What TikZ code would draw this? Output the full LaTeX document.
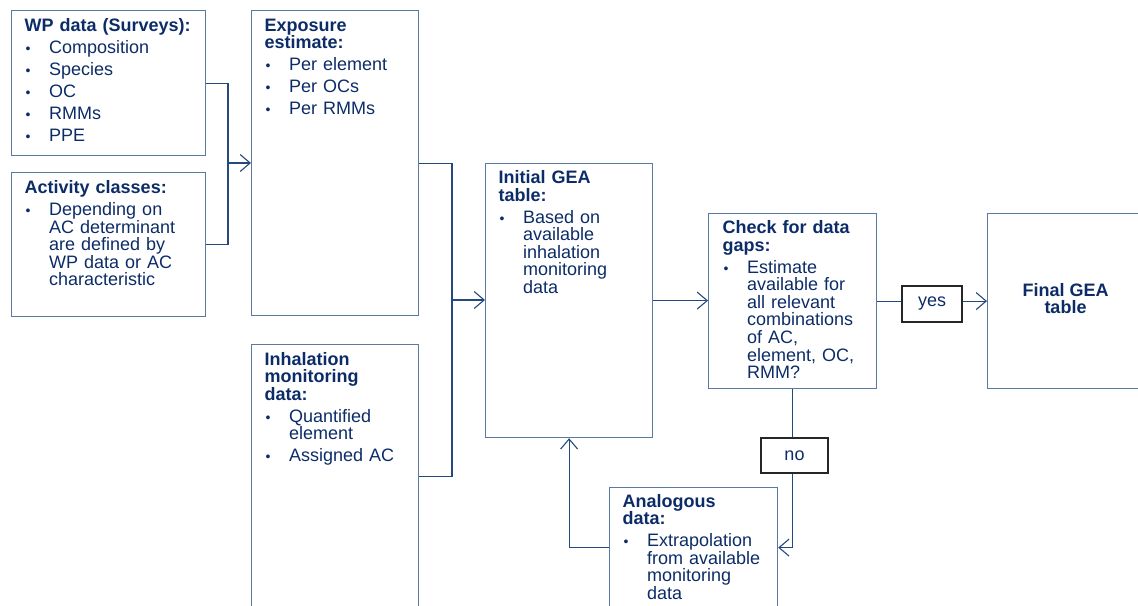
\documentclass[tikz,border=0pt]{standalone}
\usepackage{fontspec}
\setmainfont{Liberation Sans}
\usetikzlibrary{arrows.meta,calc}
\definecolor{txtc}{HTML}{0C2C68}
\definecolor{bord}{HTML}{5A7AA3}
\definecolor{connc}{HTML}{24497C}
\newcommand\bitem[1]{\par\noindent\makebox[24.5bp][l]{\hspace{1bp}{\fontsize{14bp}{14bp}\selectfont\textbullet}}\parbox[t]{170bp}{\raggedright #1}}
\begin{document}
\begin{tikzpicture}[x=1bp,y=-1bp,
  box/.style={draw=bord,line width=1.2bp,fill=none,rectangle,inner sep=0pt,anchor=north west},
  txt/.style={text=txtc,anchor=base west,inner sep=0pt,text width=200bp,align=left,
    font=\fontsize{18bp}{17.5bp}\selectfont},
  tag/.style={draw=black!85,line width=1.6bp,rectangle,inner sep=0pt,text=txtc,
    font=\fontsize{18bp}{17.5bp}\selectfont},
  conn/.style={draw=connc,line width=1.1bp},
  arr/.style={conn,-{Straight Barb[length=10bp,width=17bp]}}]
\useasboundingbox (0,0) rectangle (1138,606);
\clip (0,0) rectangle (1138,606);
% boxes
\node[box,minimum width=194bp,minimum height=145bp] (wp) at (11,10) {};
\node[box,minimum width=194bp,minimum height=144bp] (ac) at (11,172) {};
\node[box,minimum width=167bp,minimum height=305bp] (exp) at (251,10) {};
\node[box,minimum width=167bp,minimum height=264bp] (inh) at (251,344) {};
\node[box,minimum width=167bp,minimum height=274bp] (init) at (485,163) {};
\node[box,minimum width=168bp,minimum height=175bp] (check) at (708,213) {};
\node[box,minimum width=157bp,minimum height=175bp] (final) at (987,213) {};
\node[box,minimum width=168bp,minimum height=120bp] (ana) at (609,487) {};
% texts
\node[txt] (wpT) at ($(wp.north west)+(13.5,21.5)$) {\setlength{\parskip}{4.5bp}%
  \textbf{WP data (Surveys):}\bitem{Composition}\bitem{Species}\bitem{OC}\bitem{RMMs}\bitem{PPE}};
\node[txt] (acT) at ($(ac.north west)+(13.5,22)$) {\setlength{\parskip}{4.5bp}%
  \textbf{Activity classes:}\bitem{Depending on\\ AC determinant\\ are defined by\\ WP data or AC\\ characteristic}};
\node[txt] (expT) at ($(exp.north west)+(13.5,21.5)$) {\setlength{\parskip}{4.5bp}%
  \textbf{Exposure\newline estimate:}\bitem{Per element}\bitem{Per OCs}\bitem{Per RMMs}};
\node[txt] (inhT) at ($(inh.north west)+(13.5,21)$) {\setlength{\parskip}{4.5bp}%
  \textbf{Inhalation\newline monitoring\newline data:}\bitem{Quantified\\ element}\par\vspace{3bp}\bitem{Assigned AC}};
\node[txt] (initT) at ($(init.north west)+(13.5,21)$) {\setlength{\parskip}{4.5bp}%
  \textbf{Initial GEA\newline table:}\bitem{Based on\\ available\\ inhalation\\ monitoring\\ data}};
\node[txt] (checkT) at ($(check.north west)+(14.5,21)$) {\setlength{\parskip}{4.5bp}%
  \textbf{Check for data\newline gaps:}\bitem{Estimate\\ available for\\ all relevant\\ combinations\\ of AC,\\ element, OC,\\ RMM?}};
\node[txt] (anaT) at ($(ana.north west)+(13.5,20)$) {\setlength{\parskip}{4.5bp}%
  \textbf{Analogous\newline data:}\bitem{Extrapolation\\ from available\\ monitoring\\ data}};
\node[text=txtc,align=center,inner sep=0pt,font=\fontsize{18bp}{17bp}\selectfont\bfseries] (finalT) at (1065.5,299) {Final GEA\\table};
% yes / no tags
\node[tag,minimum width=60bp,minimum height=36bp] (yes) at (932,304) {yes};
\node[tag,minimum width=67bp,minimum height=35bp] (no) at (794.5,455.5) {no};
% connectors
\coordinate (j1) at (228,163);
\coordinate (j2) at (452,300);
\draw[conn] (wp.east) -| (j1) |- (ac.east);
\draw[arr] (j1) -- (j1 -| exp.west);
\draw[conn] (exp.east) -| (j2) |- (inh.east);
\draw[arr] (j2) -- (j2 -| init.west);
\draw[arr] (init.east) -- (init.east -| check.west);
\draw[conn] (check.east) -- (check.east -| yes.west);
\draw[arr] (check.east -| yes.east) -- (check.east -| final.west);
\draw[conn] (check.south) -- (check.south |- no.north);
\draw[arr] (check.south |- no.south) |- (ana.east);
\draw[arr] (ana.west) -| (init.south);
\end{tikzpicture}
\end{document}
